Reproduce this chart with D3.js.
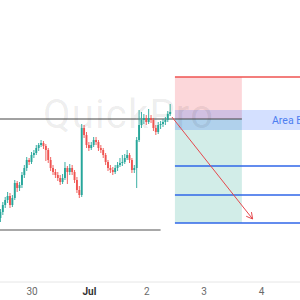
<!DOCTYPE html>
<html><head><meta charset="utf-8">
<script src="https://cdn.jsdelivr.net/npm/d3@7"></script>
<style>html,body{margin:0;padding:0;background:#fff;overflow:hidden}svg{display:block}</style>
</head><body><svg id="c" width="300" height="300"></svg>
<script>
// ---- data ----
const candleStart = "2023-06-29T11:00:00Z"; // hourly candles
const open  = [1.0732,1.0738,1.0745,1.0750,1.0754,1.0745,1.0752,1.0767,1.0762,1.0765,1.0775,1.0782,1.0790,1.0788,1.0795,1.0797,1.0802,1.0805,1.0807,1.0804,1.0800,1.0790,1.0782,1.0778,1.0775,1.0772,1.0768,1.0772,1.0782,1.0778,1.0782,1.0778,1.0770,1.0760,1.0755,1.0822,1.0815,1.0805,1.0802,1.0805,1.0810,1.0808,1.0802,1.0800,1.0795,1.0788,1.0782,1.0780,1.0778,1.0782,1.0785,1.0787,1.0788,1.0792,1.0795,1.0790,1.0780,1.0782,1.0810,1.0825,1.0830,1.0832,1.0828,1.0832,1.0830,1.0822,1.0818,1.0825,1.0826,1.0828,1.0830,1.0836];
const high  = [1.0741,1.0748,1.0753,1.0758,1.0757,1.0755,1.0770,1.0769,1.0768,1.0778,1.0785,1.0793,1.0792,1.0798,1.0800,1.0805,1.0807,1.0810,1.0809,1.0806,1.0802,1.0793,1.0785,1.0781,1.0778,1.0775,1.0776,1.0788,1.0784,1.0786,1.0785,1.0780,1.0773,1.0764,1.0826,1.0825,1.0818,1.0808,1.0808,1.0813,1.0813,1.0810,1.0805,1.0802,1.0797,1.0790,1.0785,1.0783,1.0785,1.0788,1.0792,1.0795,1.0796,1.0800,1.0797,1.0792,1.0785,1.0813,1.0840,1.0838,1.0836,1.0835,1.0841,1.0835,1.0832,1.0825,1.0828,1.0829,1.0831,1.0833,1.0839,1.0846];
const low   = [1.0728,1.0735,1.0742,1.0747,1.0742,1.0743,1.0750,1.0758,1.0759,1.0762,1.0772,1.0779,1.0785,1.0786,1.0792,1.0795,1.0799,1.0803,1.0801,1.0789,1.0787,1.0779,1.0775,1.0772,1.0769,1.0765,1.0766,1.0770,1.0766,1.0775,1.0775,1.0767,1.0757,1.0752,1.0753,1.0812,1.0802,1.0799,1.0800,1.0803,1.0805,1.0799,1.0797,1.0792,1.0785,1.0779,1.0777,1.0775,1.0776,1.0779,1.0783,1.0784,1.0786,1.0790,1.0787,1.0777,1.0777,1.0762,1.0808,1.0822,1.0826,1.0825,1.0826,1.0827,1.0819,1.0815,1.0816,1.0821,1.0823,1.0825,1.0828,1.0834];
const close = [1.0738,1.0745,1.0750,1.0754,1.0745,1.0752,1.0767,1.0762,1.0765,1.0775,1.0782,1.0790,1.0788,1.0795,1.0797,1.0802,1.0805,1.0807,1.0804,1.0800,1.0790,1.0782,1.0778,1.0775,1.0772,1.0768,1.0772,1.0782,1.0778,1.0782,1.0778,1.0770,1.0760,1.0755,1.0822,1.0815,1.0805,1.0802,1.0805,1.0810,1.0808,1.0802,1.0800,1.0795,1.0788,1.0782,1.0780,1.0778,1.0782,1.0785,1.0787,1.0788,1.0792,1.0795,1.0790,1.0780,1.0782,1.0810,1.0825,1.0830,1.0832,1.0828,1.0832,1.0830,1.0822,1.0818,1.0825,1.0826,1.0828,1.0830,1.0836,1.0838];

const tickDates  = ["2023-06-30","2023-07-01","2023-07-02","2023-07-03","2023-07-04"];
const tickLabels = ["30","Jul","2","3","4"];

// drawing tools
const zoneStart = "2023-07-02T12:00:00Z", zoneEnd = "2023-07-03T16:00:00Z";
const stopPrice = 1.0873, entryPrice = 1.0831;
const areaTop = 1.0840, areaBottom = 1.0820, areaLabel = "Area Entry";
const targetPrices = [1.0784, 1.0755, 1.0727];
const resistanceStart = "2023-06-29T00:00:00Z";
const supportPrice = 1.0720, supportEnd = "2023-07-02T06:00:00Z";
const arrowFrom = {t:"2023-07-02T10:45:00Z", p:1.0833};
const arrowTo   = {t:"2023-07-03T20:30:00Z", p:1.0731};
const watermark = "QuickPro";

// ---- scales ----
const W = 300, H = 300;
const x = d3.scaleUtc()
  .domain([new Date("2023-06-30T00:00:00Z"), new Date("2023-07-04T00:00:00Z")])
  .range([31.5, 261]);
const y = d3.scaleLinear().domain([1.0650, 1.0950]).range([300, 0]);

const svg = d3.select("#c");
const t0 = new Date(candleStart).getTime();
const candles = close.map((c,i)=>({t:new Date(t0 + i*3600e3), o:open[i], h:high[i], l:low[i], c}));

// zones
const xs = x(new Date(zoneStart)), xe = x(new Date(zoneEnd));
svg.append("rect").attr("x", xs).attr("width", xe-xs)
  .attr("y", y(stopPrice)).attr("height", y(entryPrice)-y(stopPrice))
  .attr("fill","rgba(242,54,69,0.2)");
svg.append("rect").attr("x", xs).attr("width", xe-xs)
  .attr("y", y(entryPrice)).attr("height", y(targetPrices[2])-y(entryPrice))
  .attr("fill","rgba(8,153,129,0.18)");
svg.append("rect").attr("x", xs).attr("width", W-xs)
  .attr("y", y(areaTop)).attr("height", y(areaBottom)-y(areaTop))
  .attr("fill","rgba(41,98,255,0.2)");

// watermark (drawn over the zones, translucent)
svg.append("text").attr("x", 43).attr("y", y(1.0822))
  .attr("font-family","Roboto, sans-serif").attr("font-size", 40)
  .attr("fill","rgba(0,0,0,0.075)").attr("textLength",170).text(watermark);

svg.append("text").attr("x", 272).attr("y", (y(areaTop)+y(areaBottom))/2)
  .attr("dy","0.35em").attr("font-family","Roboto, sans-serif").attr("font-size",10.5)
  .attr("fill","#4d7ef0").text(areaLabel);

// stop line
svg.append("line").attr("x1", xs).attr("x2", W).attr("y1", y(stopPrice)).attr("y2", y(stopPrice))
  .attr("stroke","#ef5350").attr("stroke-width",1.5);
// target lines
svg.selectAll("line.tp").data(targetPrices).join("line").attr("class","tp")
  .attr("x1", xs).attr("x2", W).attr("y1", d=>y(d)).attr("y2", d=>y(d))
  .attr("stroke","#2f66e8").attr("stroke-width",1.5);
// entry / resistance line
svg.append("line").attr("x1", x(new Date(resistanceStart))).attr("x2", xe)
  .attr("y1", y(entryPrice)).attr("y2", y(entryPrice))
  .attr("stroke","#444").attr("stroke-width",1);
// support line
svg.append("line").attr("x1", x(new Date(resistanceStart))).attr("x2", x(new Date(supportEnd)))
  .attr("y1", y(supportPrice)).attr("y2", y(supportPrice))
  .attr("stroke","#a8a8a8").attr("stroke-width",2);

// candles
const g = svg.append("g");
const bw = 1.9;
g.selectAll("line.w").data(candles).join("line").attr("class","w")
  .attr("x1", d=>x(d.t)).attr("x2", d=>x(d.t))
  .attr("y1", d=>y(d.h)).attr("y2", d=>y(d.l))
  .attr("stroke", d=>d.c>=d.o?"#26a69a":"#ef5350").attr("stroke-width",0.9);
g.selectAll("rect.b").data(candles).join("rect").attr("class","b")
  .attr("x", d=>x(d.t)-bw/2).attr("width", bw)
  .attr("y", d=>y(Math.max(d.o,d.c)))
  .attr("height", d=>Math.max(1, Math.abs(y(d.o)-y(d.c))))
  .attr("fill", d=>d.c>=d.o?"#26a69a":"#ef5350");

// arrow
const ax1 = x(new Date(arrowFrom.t)), ay1 = y(arrowFrom.p);
const ax2 = x(new Date(arrowTo.t)), ay2 = y(arrowTo.p);
svg.append("line").attr("x1",ax1).attr("y1",ay1).attr("x2",ax2).attr("y2",ay2)
  .attr("stroke","#e5484d").attr("stroke-width",1);
const ang = Math.atan2(ay2-ay1, ax2-ax1), hl = 7;
svg.append("path")
  .attr("d", `M${ax2-hl*Math.cos(ang-0.5)},${ay2-hl*Math.sin(ang-0.5)}L${ax2},${ay2}L${ax2-hl*Math.cos(ang+0.5)},${ay2-hl*Math.sin(ang+0.5)}`)
  .attr("fill","none").attr("stroke","#e5484d").attr("stroke-width",1);

// x axis
const axisY = 282;
svg.append("line").attr("x1",0).attr("x2",W).attr("y1",axisY).attr("y2",axisY)
  .attr("stroke","#e6e6e6").attr("stroke-width",1);
const xAxis = d3.axisBottom(x).tickValues(tickDates.map(d=>new Date(d+"T00:00:00Z")))
  .tickSize(0).tickPadding(6).tickFormat((d,i)=>tickLabels[i]);
const ax = svg.append("g").attr("transform",`translate(0,${axisY})`).call(xAxis);
ax.select(".domain").remove();
ax.selectAll("text").attr("font-family","Roboto, sans-serif").attr("font-size",10)
  .attr("font-weight",(d,i)=>i===1?"bold":"normal")
  .attr("fill",(d,i)=>i===1?"#333":"#6a6a6a");
</script></body></html>
